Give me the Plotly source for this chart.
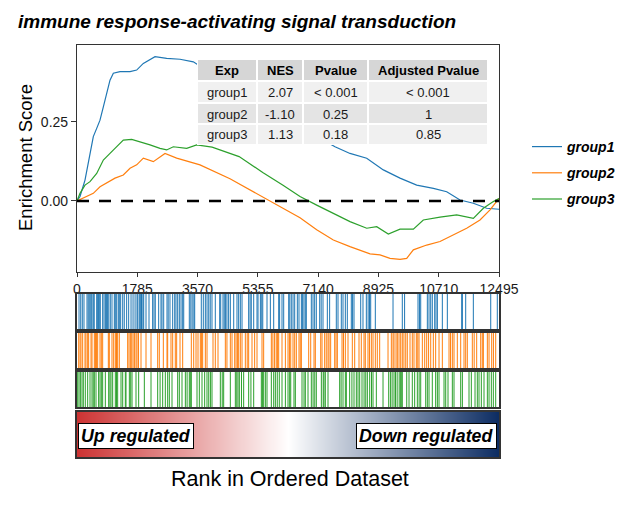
import plotly.graph_objects as go

# ---------------- data ----------------
title_text = "immune response-activating signal transduction"
groups = ["group1", "group2", "group3"]
colors = ["#1f77b4", "#ff7f0e", "#2ca02c"]
x_ticks = [0, 1785, 3570, 5355, 7140, 8925, 10710, 12495]
n_genes = 12495

es_rank_g1 = [0, 89, 237, 385, 483, 583, 681, 780, 879, 977, 1076, 1273, 1570, 1767, 1964, 2310,
              2655, 3050, 3444, 5000, 6500, 7639, 8083, 8578, 9070, 9564, 10058, 10552, 10947,
              11341, 11735, 12130, 12495]
es_g1 = [0, 0.014, 0.066, 0.150, 0.203, 0.229, 0.255, 0.297, 0.340, 0.381, 0.403, 0.408, 0.408,
         0.413, 0.434, 0.455, 0.450, 0.447, 0.439, 0.33, 0.24, 0.171, 0.150, 0.135, 0.098, 0.072,
         0.050, 0.040, 0.029, 0.003, -0.007, -0.023, -0.026]

es_rank_g2 = [0, 187, 483, 681, 879, 1125, 1371, 1570, 1767, 1964, 2260, 2606, 2951, 3346, 3642,
              4530, 5123, 5715, 6159, 6603, 7097, 7590, 8083, 8676, 8972, 9268, 9564, 9762, 9959,
              10354, 10749, 11143, 11538, 11932, 12229, 12495]
es_g2 = [0, 0.009, 0.024, 0.045, 0.056, 0.072, 0.082, 0.103, 0.114, 0.135, 0.124, 0.150, 0.135,
         0.124, 0.114, 0.070, 0.035, 0.0, -0.028, -0.053, -0.091, -0.123, -0.144, -0.167, -0.170,
         -0.181, -0.184, -0.181, -0.154, -0.139, -0.128, -0.107, -0.086, -0.060, -0.028, 0.008]

es_rank_g3 = [0, 89, 237, 385, 583, 780, 977, 1175, 1371, 1619, 1865, 2162, 2458, 2655, 2852, 3248,
              3544, 4000, 4800, 5500, 6100, 6603, 7097, 7590, 8083, 8578, 8874, 9218, 9564, 9959,
              10254, 10749, 11243, 11735, 12032, 12327, 12495]
es_g3 = [0, 0.024, 0.050, 0.061, 0.087, 0.129, 0.150, 0.171, 0.192, 0.194, 0.187, 0.177, 0.166,
         0.161, 0.171, 0.166, 0.177, 0.17, 0.14, 0.09, 0.05, 0.014, -0.013, -0.039, -0.065, -0.086,
         -0.081, -0.104, -0.089, -0.089, -0.060, -0.051, -0.044, -0.055, -0.023, -0.002, 0.008]

hits_g1 = [60, 110, 157, 207, 296, 330, 360, 390, 420, 444, 483, 510, 583, 612, 640, 660, 690, 760,
           800, 840, 870, 900, 940, 986, 1036, 1105, 1134, 1175, 1223, 1253, 1293, 1353, 1400, 1470,
           1530, 1600, 1660, 1720, 1777, 1800, 1845, 1875, 1910, 1950, 1975, 2043, 2132, 2240, 2280,
           2318, 2418, 2487, 2517, 2567, 2665, 2700, 2753, 2833, 2893, 2931, 2981, 3030, 3080, 3129,
           3160, 3325, 3370, 3410, 3460, 3485, 3680, 3740, 3800, 3850, 3900, 3945, 3997, 4095, 4225,
           4255, 4323, 4360, 4400, 4440, 4490, 4540, 4640, 4737, 4787, 4836, 4886, 5083, 5125, 5160,
           5232, 5330, 5360, 5430, 5470, 5500, 5626, 5725, 5824, 5972, 6000, 6070, 6120, 6268, 6300,
           6345, 6396, 6446, 6524, 6573, 6643, 6680, 6720, 6760, 6790, 6938, 6988, 7037, 7086, 7186,
           7230, 7284, 7412, 7480, 7678, 7728, 7826, 7876, 7945, 8004, 8122, 8160, 8202, 8400, 8468,
           8567, 8620, 8660, 8696, 8833, 9357, 9632, 9700, 10097, 10140, 10177, 10373, 10423, 10473,
           10520, 10591, 10630, 10670, 10817, 10965, 11391, 11410, 11509, 11735, 12250, 12445]

hits_g2 = [50, 90, 118, 168, 237, 266, 316, 345, 415, 444, 513, 550, 580, 612, 681, 720, 760, 928,
           957, 1036, 1086, 1135, 1170, 1204, 1253, 1500, 1540, 1580, 1620, 1660, 1700, 1747, 1777,
           1820, 1895, 2043, 2191, 2389, 2437, 2556, 2665, 2685, 2783, 2833, 2911, 2951, 3050, 3129,
           3385, 3455, 3524, 3583, 3652, 3690, 3721, 3800, 3850, 4027, 4095, 4175, 4392, 4440, 4540,
           4590, 4669, 4710, 4750, 4787, 4836, 4886, 4984, 5040, 5083, 5182, 5260, 5330, 5478, 5527,
           5754, 5800, 5850, 5900, 5940, 5972, 6070, 6170, 6248, 6290, 6328, 6396, 6446, 6494, 6573,
           6610, 6643, 6860, 6920, 7018, 7057, 7216, 7255, 7333, 7380, 7432, 7462, 7511, 7630, 7670,
           7708, 7847, 7890, 7945, 8024, 8152, 8222, 8350, 8418, 8498, 8537, 8616, 8660, 8715, 8765,
           8833, 8892, 8962, 9209, 9307, 9357, 9386, 9446, 9485, 9535, 9584, 9632, 9680, 9733, 9780,
           9860, 9928, 9978, 10047, 10090, 10127, 10225, 10295, 10354, 10410, 10473, 10551, 10620,
           10719, 10817, 11015, 11060, 11113, 11163, 11261, 11361, 11459, 11509, 11557, 11705, 11760,
           11834, 11953, 12000, 12032, 12150, 12200, 12279, 12330, 12397]

hits_g3 = [20, 60, 100, 148, 187, 246, 316, 385, 444, 480, 513, 563, 640, 681, 720, 760, 839, 938,
           975, 1007, 1056, 1135, 1170, 1204, 1303, 1353, 1431, 1451, 1550, 1590, 1629, 1747, 1826,
           1994, 2191, 2389, 2460, 2537, 2615, 2685, 2734, 2813, 2981, 3030, 3109, 3208, 3260, 3325,
           3355, 3385, 3553, 3622, 3701, 3780, 3849, 3900, 3950, 3997, 4244, 4300, 4343, 4540, 4688,
           4730, 4767, 4807, 4870, 4935, 5083, 5150, 5232, 5458, 5490, 5527, 5577, 5626, 5754, 5824,
           5873, 5930, 5990, 6070, 6170, 6248, 6297, 6328, 6425, 6465, 6662, 6722, 6761, 6840, 6938,
           6990, 7040, 7086, 7235, 7290, 7313, 7353, 7432, 7777, 7820, 7876, 7945, 7975, 8073, 8140,
           8202, 8271, 8320, 8370, 8439, 8500, 8550, 8597, 8666, 8720, 8765, 8863, 9061, 9229, 9280,
           9330, 9386, 9430, 9480, 9540, 9584, 9600, 9632, 9763, 9831, 9928, 9998, 10077, 10130,
           10177, 10325, 10373, 10423, 10520, 10620, 10670, 10719, 10867, 10917, 10985, 11113, 11163,
           11361, 11410, 11607, 11676, 11785, 11853, 11903, 11972, 12051, 12150, 12200, 12268, 12327,
           12397]

table_header = ["Exp", "NES", "Pvalue", "Adjusted Pvalue"]
table_exp = ["group1", "group2", "group3"]
table_nes = ["2.07", "-1.10", "1.13"]
table_pval = ["< 0.001", "0.25", "0.18"]
table_padj = ["< 0.001", "1", "0.85"]

# ---------------- layout helpers ----------------
W, H = 643, 514
FONT = "Liberation Sans, Arial, sans-serif"


def dx(p):
    return p / W


def dy(p):
    return 1 - p / H


fig = go.Figure()

es_ranks = [es_rank_g1, es_rank_g2, es_rank_g3]
es_vals = [es_g1, es_g2, es_g3]
for i, g in enumerate(groups):
    fig.add_trace(go.Scatter(
        x=es_ranks[i], y=es_vals[i], mode="lines",
        line=dict(color=colors[i], width=1.2),
        name="<b><i>%s</i></b>" % g, legendgroup=g,
        xaxis="x", yaxis="y", hoverinfo="skip"))

# zero dashed line
fig.add_trace(go.Scatter(x=[0, n_genes], y=[0, 0], mode="lines",
                         line=dict(color="black", width=2.6, dash="12px,10px"),
                         showlegend=False, hoverinfo="skip", xaxis="x", yaxis="y"))

hits = [hits_g1, hits_g2, hits_g3]
for i in range(3):
    xs, ys = [], []
    for r in hits[i]:
        xs += [r, r, None]
        ys += [0, 1, None]
    ax = str(i + 2)
    fig.add_trace(go.Scatter(x=xs, y=ys, mode="lines",
                             line=dict(color=colors[i], width=1.0),
                             showlegend=False, hoverinfo="skip",
                             xaxis="x" + ax, yaxis="y" + ax))

# gradient bar
fig.add_trace(go.Heatmap(x=[0, n_genes / 2, n_genes], y=[0], z=[[0, 0.5, 1]],
                         zsmooth="best", showscale=False, hoverinfo="skip",
                         colorscale=[[0, "#cc3333"], [0.5, "#ffffff"], [1, "#0c2c62"]],
                         zmin=0, zmax=1, xaxis="x5", yaxis="y5"))

box = dict(showline=True, mirror=True, linecolor="#333333", showgrid=False, zeroline=False)

x_main = [dx(77), dx(499)]
layout = dict(
    width=W, height=H, autosize=False,
    margin=dict(l=0, r=0, t=0, b=0, autoexpand=False),
    paper_bgcolor="white", plot_bgcolor="white",
    font=dict(family=FONT, color="#1a1a1a"),
    showlegend=True,
    title=dict(text="<b><i>%s</i></b>" % title_text, x=dx(18), xanchor="left",
               y=dy(21), yanchor="middle",
               font=dict(family=FONT, size=19, color="black")),
    legend=dict(x=dx(527), y=dy(131), xanchor="left", yanchor="top",
                font=dict(family=FONT, size=14, color="black"),
                tracegroupgap=5, bgcolor="rgba(0,0,0,0)", itemwidth=30),
    xaxis=dict(domain=x_main, range=[0, n_genes], tickvals=x_ticks,
               ticktext=[str(t) for t in x_ticks], ticks="outside", ticklen=4,
               tickcolor="#333333", tickfont=dict(size=14, color="#1a1a1a"),
               anchor="y", linewidth=1.2, **box),
    yaxis=dict(domain=[dy(272), dy(45)], range=[-0.224, 0.492], tickvals=[0, 0.25],
               ticktext=["0.00", "0.25"], ticks="outside", ticklen=5,
               tickcolor="#333333", tickfont=dict(size=14, color="#1a1a1a"),
               anchor="x", linewidth=1.2, **box),
)
bands = [(294, 329), (333, 368), (372, 407)]
for i, (t, b) in enumerate(bands):
    n = str(i + 2)
    layout["xaxis" + n] = dict(domain=x_main, range=[0, n_genes], showticklabels=False,
                               ticks="", anchor="y" + n, linewidth=2, **box)
    layout["yaxis" + n] = dict(domain=[dy(b), dy(t)], range=[0, 1], showticklabels=False,
                               ticks="", anchor="x" + n, linewidth=2, **box)
layout["xaxis5"] = dict(domain=x_main, range=[0, n_genes], showticklabels=False, ticks="",
                        anchor="y5", linewidth=2, **box)
layout["yaxis5"] = dict(domain=[dy(457), dy(412)], range=[-0.5, 0.5], showticklabels=False,
                        ticks="", anchor="x5", linewidth=2, **box)

annotations = [
    dict(text="Enrichment Score", textangle=-90, x=dx(25), y=dy(158), xref="paper",
         yref="paper", xanchor="center", yanchor="middle", showarrow=False,
         font=dict(family=FONT, size=18.5, color="black")),
    dict(text="Rank in Ordered Dataset", x=dx(290), y=dy(479), xref="paper", yref="paper",
         xanchor="center", yanchor="middle", showarrow=False,
         font=dict(family=FONT, size=21.5, color="black")),
    dict(text="<b><i>Up regulated</i></b>", x=dx(78), y=dy(435.5), xref="paper", yref="paper",
         xanchor="left", yanchor="middle", showarrow=False, bgcolor="white",
         bordercolor="black", borderwidth=1, borderpad=2,
         font=dict(family=FONT, size=17.8, color="black")),
    dict(text="<b><i>Down regulated</i></b>", x=dx(497), y=dy(435.5), xref="paper",
         yref="paper", xanchor="right", yanchor="middle", showarrow=False, bgcolor="white",
         bordercolor="black", borderwidth=1, borderpad=2,
         font=dict(family=FONT, size=17.8, color="black")),
]

# ---- statistics table (drawn as cells over the plot) ----
col_edges = [197, 257, 303, 368, 488]
row_edges = [59, 81, 103, 124, 145]
row_fill = ["#d6d6d6", "#f0f0f0", "#e4e4e4", "#f0f0f0"]
shapes = [dict(type="rect", xref="paper", yref="paper", x0=dx(col_edges[0]), x1=dx(col_edges[-1]),
               y0=dy(row_edges[-1]), y1=dy(row_edges[0]), fillcolor="white",
               line=dict(width=0), layer="above")]
table_rows = [table_header] + [list(r) for r in zip(table_exp, table_nes, table_pval, table_padj)]
for r, row in enumerate(table_rows):
    for c, val in enumerate(row):
        shapes.append(dict(type="rect", xref="paper", yref="paper",
                           x0=dx(col_edges[c] + 1), x1=dx(col_edges[c + 1] - 1),
                           y0=dy(row_edges[r + 1] - 1), y1=dy(row_edges[r] + 1),
                           fillcolor=row_fill[r], line=dict(width=0), layer="above"))
        txt = "<b>%s</b>" % val if r == 0 else val
        annotations.append(dict(text=txt, xref="paper", yref="paper",
                                x=dx((col_edges[c] + col_edges[c + 1]) / 2),
                                y=dy((row_edges[r] + row_edges[r + 1]) / 2 + 0.5),
                                xanchor="center", yanchor="middle", showarrow=False,
                                font=dict(family=FONT, size=13,
                                          color="black" if r == 0 else "#1a1a1a")))

layout["shapes"] = shapes
layout["annotations"] = annotations

fig.update_layout(**layout)
fig.write_html("out.html")
